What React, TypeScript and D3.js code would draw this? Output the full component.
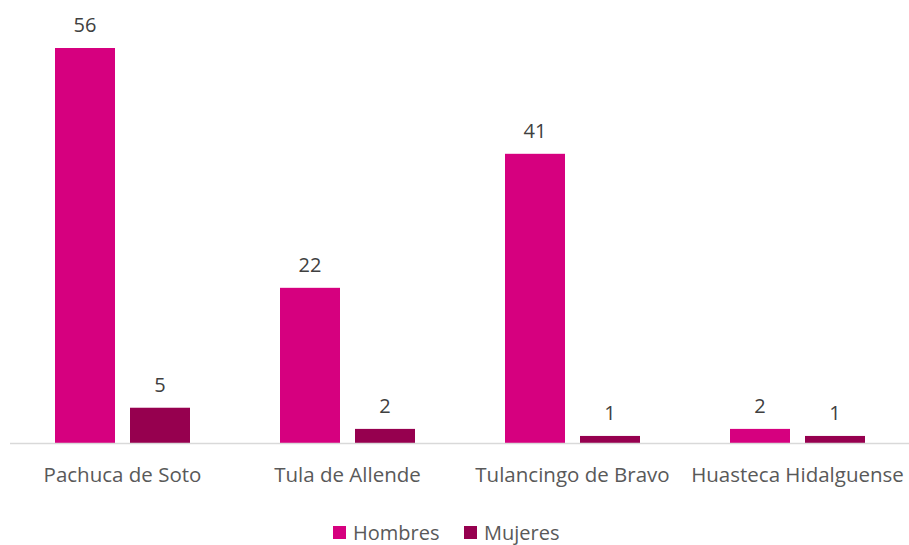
import React from 'react';
import * as d3 from 'd3';

const categories = ['Pachuca de Soto', 'Tula de Allende', 'Tulancingo de Bravo', 'Huasteca Hidalguense'];
const seriesNames = ['Hombres', 'Mujeres'];
const hombres = [56, 22, 41, 2];
const mujeres = [5, 2, 1, 1];
const colors = ['#D6007F', '#96004F'];

const W = 909;
const H = 545;
const FONT = '"Open Sans", Lato, sans-serif';

export default function App() {
  const ref = React.useRef<SVGSVGElement>(null);

  React.useEffect(() => {
    const svg = d3.select(ref.current);
    svg.selectAll('*').remove();

    const left = 10, right = 910, top = 48, bottom = 443;

    const x = d3.scaleBand().domain(categories).range([left, right]).paddingInner(0).paddingOuter(0);
    const x1 = d3.scaleBand().domain(seriesNames).range([45, 180]).paddingInner(0.2);
    const y = d3.scaleLinear().domain([0, 56]).range([bottom, top]);

    const rows = categories.map((c, i) => ({ cat: c, vals: [hombres[i], mujeres[i]] }));

    const g = svg.selectAll('.grp').data(rows).enter().append('g')
      .attr('transform', d => `translate(${x(d.cat)},0)`);

    g.selectAll('rect')
      .data(d => d.vals.map((v, j) => ({ v, j })))
      .enter().append('rect')
      .attr('x', d => x1(seriesNames[d.j])!)
      .attr('width', x1.bandwidth())
      .attr('y', d => y(d.v))
      .attr('height', d => bottom - y(d.v))
      .attr('fill', d => colors[d.j]);

    g.selectAll('text.lbl')
      .data(d => d.vals.map((v, j) => ({ v, j })))
      .enter().append('text')
      .attr('x', d => x1(seriesNames[d.j])! + x1.bandwidth() / 2)
      .attr('y', d => y(d.v) - 16)
      .attr('text-anchor', 'middle')
      .attr('font-family', FONT)
      .attr('font-size', 20)
      .attr('fill', '#404040')
      .text(d => String(d.v));

    svg.append('line')
      .attr('x1', left).attr('x2', W)
      .attr('y1', bottom + 0.5).attr('y2', bottom + 0.5)
      .attr('stroke', '#D9D9D9').attr('stroke-width', 1.5);

    svg.selectAll('text.cat').data(categories).enter().append('text')
      .attr('x', d => x(d)! + x.bandwidth() / 2)
      .attr('y', 481.5)
      .attr('text-anchor', 'middle')
      .attr('font-family', FONT)
      .attr('font-size', 20.5)
      .attr('fill', '#595959')
      .text(d => d);

    const legendX = [333, 464];
    const leg = svg.selectAll('g.leg').data(seriesNames).enter().append('g')
      .attr('transform', (d, i) => `translate(${legendX[i]},526)`);
    leg.append('rect').attr('width', 13).attr('height', 13).attr('fill', (d, i) => colors[i]);
    leg.append('text')
      .attr('x', 20).attr('y', 13.5)
      .attr('font-family', FONT)
      .attr('font-size', 20)
      .attr('fill', '#595959')
      .text(d => d);
  }, []);

  return (
    <svg ref={ref} width={W} height={H} style={{ position: 'absolute', left: 0, top: 0, background: '#fff' }} />
  );
}
